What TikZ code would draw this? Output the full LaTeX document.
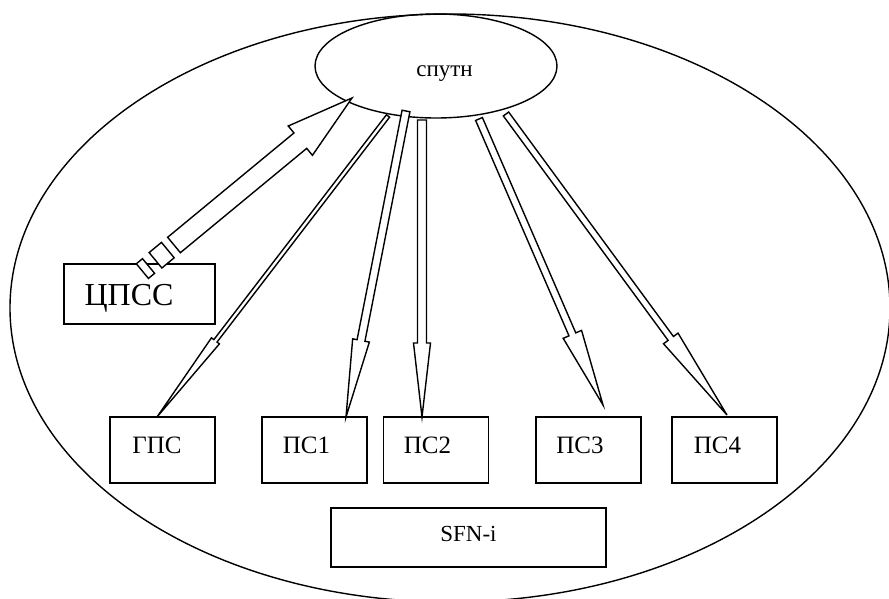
\documentclass[tikz,border=0pt]{standalone}
\usepackage{fontspec}
\setmainfont{Liberation Serif}
\usetikzlibrary{calc,shapes.geometric}

% hollow block arrow: from, to, shaft half width, head half width, head length
\newcommand\blockarrow[5]{%
  \draw[arrowbody]
    ($(#1)!#3!90:(#2)$)
    -- ($(#2)!#5!(#1)!#3!-90:(#1)$)
    -- ($(#2)!#5!(#1)!#4!-90:(#1)$)
    -- (#2)
    -- ($(#2)!#5!(#1)!#4!90:(#1)$)
    -- ($(#2)!#5!(#1)!#3!90:(#1)$)
    -- ($(#1)!#3!-90:(#2)$)
    -- cycle;}

% tail stripe of a striped arrow: tail, tip, start and end behind the tail, half width
\newcommand\tailstripe[5]{%
  \draw[arrowbody]
    ($(#1)!-#3!(#2)!#5!90:(#2)$)
    -- ($(#1)!-#4!(#2)!#5!90:(#2)$)
    -- ($(#1)!-#4!(#2)!#5!-90:(#2)$)
    -- ($(#1)!-#3!(#2)!#5!-90:(#2)$)
    -- cycle;}

\tikzset{
  line/.style={line width=1.4pt},
  arrowbody/.style={line, fill=white, line join=miter},
  station/.style={draw, line, minimum width=105pt, minimum height=66pt, inner sep=0pt},
  lbl/.style={font=\fontsize{25pt}{30pt}\selectfont, text depth=0pt, inner sep=0pt},
}

\begin{document}
\begin{tikzpicture}[x=1pt, y=-1pt]
  \useasboundingbox (0,0) rectangle (889,599);

  % coverage area of the network
  \draw[line] (450,308) ellipse [x radius=440pt, y radius=294pt];

  % satellite
  \node[ellipse, draw, line, minimum width=242pt, minimum height=104pt, inner sep=0pt,
        label={[lbl, font=\fontsize{23pt}{28pt}\selectfont, xshift=8.5pt, yshift=-5pt]center:спутн}]
        (sat) at (436,66) {};

  % ground stations
  \node[station, minimum width=151pt, minimum height=60pt,
        label={[lbl, font=\fontsize{32pt}{38pt}\selectfont, xshift=-10.5pt, yshift=-1pt]center:ЦПСС}]
        (cpss) at (139.5,294) {};
  \node[station, label={[lbl, xshift=-5.5pt, yshift=5pt]center:ГПС}] (gps) at (162.5,450) {};
  \node[station, label={[lbl, xshift=-8pt, yshift=5pt]center:ПС1}]  (ps1) at (314.5,450) {};
  \node[station, label={[lbl, xshift=-8.5pt, yshift=5pt]center:ПС2}] (ps2) at (436,450) {};
  \node[station, label={[lbl, xshift=-8.5pt, yshift=5pt]center:ПС3}] (ps3) at (588.5,450) {};
  \node[station, label={[lbl, xshift=-7pt, yshift=5pt]center:ПС4}]  (ps4) at (724.5,450) {};

  % single frequency network block
  \node[station, minimum width=275pt, minimum height=59pt,
        label={[lbl, font=\fontsize{23pt}{28pt}\selectfont, yshift=4pt]center:SFN-i}]
        (sfn) at (468.5,537.5) {};

  % arrow ends
  \coordinate (upTail) at (174,245);
  \coordinate (upTip)  at (352,98);
  \coordinate (sGps)   at (388,116);
  \coordinate (tGps)   at (157,417);
  \coordinate (sPs1)   at (406,111);
  \coordinate (tPs1)   at (346,417);
  \coordinate (sPs2)   at (422,120);
  \coordinate (tPs2)   at (422,417);
  \coordinate (sPs3)   at (479,119);
  \coordinate (tPs3)   at (603,405);
  \coordinate (sPs4)   at (506,114);
  \coordinate (tPs4)   at (727,415);

  % uplink from the control centre (striped arrow)
  \blockarrow{upTail}{upTip}{10pt}{19pt}{67pt}
  \tailstripe{upTail}{upTip}{8pt}{24pt}{10pt}
  \tailstripe{upTail}{upTip}{33pt}{41pt}{9.5pt}

  % downlinks to the stations
  \blockarrow{sGps}{tGps}{2pt}{5pt}{96pt}
  \blockarrow{sPs1}{tPs1}{4pt}{8.5pt}{78pt}
  \blockarrow{sPs2}{tPs2}{4.5pt}{8.5pt}{74pt}
  \blockarrow{sPs3}{tPs3}{3.7pt}{10pt}{77pt}
  \blockarrow{sPs4}{tPs4}{3.3pt}{9pt}{95pt}
\end{tikzpicture}
\end{document}
